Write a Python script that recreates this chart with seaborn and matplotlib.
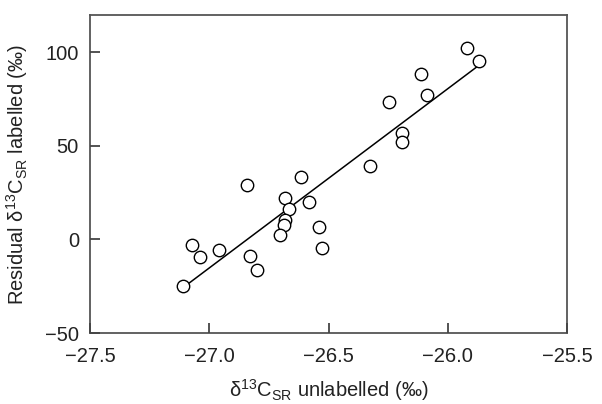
import numpy as np
import pandas as pd
import matplotlib
matplotlib.use('Agg')
import matplotlib.pyplot as plt
import seaborn as sns

# values
unlabelled = [-25.919, -25.868, -26.114, -26.086, -26.248, -26.191, -26.191, -26.327,
              -26.617, -26.842, -26.681, -26.581, -26.665, -26.684, -26.687, -26.705,
              -26.539, -26.529, -27.073, -27.039, -26.961, -26.829, -26.801, -27.109]
labelled = [102.1, 95.2, 88.6, 77.4, 73.3, 56.8, 52.0, 39.5,
            33.6, 29.3, 21.9, 20.0, 16.2, 10.5, 7.8, 2.5,
            6.4, -4.3, -2.8, -9.4, -5.5, -8.7, -16.5, -24.7]
x_ticks = [-27.5, -27.0, -26.5, -26.0, -25.5]
y_ticks = [-50, 0, 50, 100]

df = pd.DataFrame({'unlabelled': unlabelled, 'labelled': labelled})

sns.set_style('ticks')
plt.rcParams['font.family'] = ['Liberation Sans', 'DejaVu Sans']
plt.rcParams['mathtext.fontset'] = 'custom'
plt.rcParams['mathtext.rm'] = 'Liberation Sans'
plt.rcParams['mathtext.it'] = 'Liberation Sans'
plt.rcParams['mathtext.bf'] = 'Liberation Sans:bold'
plt.rcParams['xtick.direction'] = 'in'
plt.rcParams['ytick.direction'] = 'in'
plt.rcParams['xtick.major.size'] = 7
plt.rcParams['ytick.major.size'] = 7
plt.rcParams['xtick.major.width'] = 1.3
plt.rcParams['ytick.major.width'] = 1.3

ink = '#222222'
fig = plt.figure(figsize=(6.02, 4.04), dpi=100)
ax = fig.add_axes([0.1495, 0.1757, 0.7925, 0.7873])

sns.regplot(data=df, x='unlabelled', y='labelled', ax=ax, ci=None,
            scatter_kws=dict(s=80, facecolors='white', edgecolors='black',
                             linewidths=1.0, zorder=3, alpha=1),
            line_kws=dict(color='black', lw=1.1, zorder=2))

ax.set_xlim(-27.5, -25.5)
ax.set_ylim(-50, 120)
ax.set_xticks(x_ticks)
ax.set_xticklabels([f'{t:.1f}'.replace('-', '\u2212') for t in x_ticks])
ax.set_yticks(y_ticks)
ax.set_yticklabels([str(t).replace('-', '\u2212') for t in y_ticks])

for side in ['top', 'right', 'bottom', 'left']:
    ax.spines[side].set_visible(True)
    ax.spines[side].set_color('#555555')
    ax.spines[side].set_linewidth(1.3)

# ticks point inward, so keep them above the axes face
ax.set_axisbelow(False)
ax.tick_params(axis='both', which='major', direction='in', bottom=True, left=True,
               length=7, width=1.3, color='#444444',
               labelsize=14.5, labelcolor=ink)
ax.tick_params(axis='x', pad=10)
ax.tick_params(axis='y', pad=8)
for t in ax.xaxis.get_major_ticks() + ax.yaxis.get_major_ticks():
    t.tick1line.set_visible(True)
    t.tick1line.set_markersize(7)
    t.tick1line.set_markeredgewidth(1.3)
    t.tick1line.set_color('#444444')
    t.tick1line.set_zorder(2.6)

ax.set_xlabel('δ$^{13}$C$_{\\mathrm{SR}}$ unlabelled (‰)', fontsize=14.5,
              color=ink, labelpad=8)
ax.set_ylabel('Residual δ$^{13}$C$_{\\mathrm{SR}}$ labelled (‰)', fontsize=14.5,
              color=ink, labelpad=11)

fig.savefig('out.png', dpi=100)
